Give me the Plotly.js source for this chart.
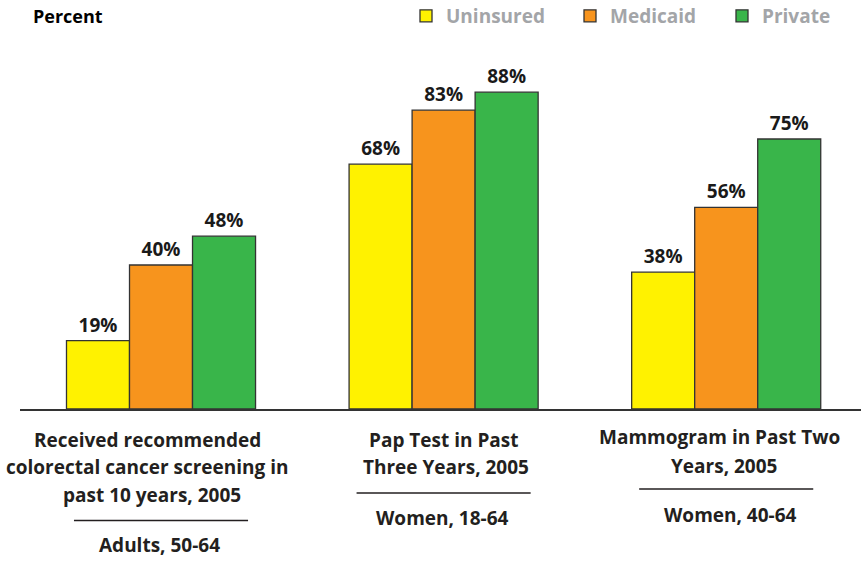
<!DOCTYPE html>
<html>
<head>
<meta charset="utf-8">
<script src="https://cdn.plot.ly/plotly-3.0.1.min.js"></script>
<style>html,body{margin:0;padding:0;background:#fff;}#chart{width:861px;height:561px;}</style>
</head>
<body>
<div id="chart"></div>
<script>
// ---- data ----
var groupPos = [0, 1, 2];
var seriesNames = ["Uninsured", "Medicaid", "Private"];
var uninsured = [19, 68, 38];
var medicaid = [40, 83, 56];
var privateIns = [48, 88, 75];
var seriesColors = ["#FFF200", "#F7941D", "#39B54A"];
var catLines = [
  ["Received recommended", "colorectal cancer screening in", "past 10 years, 2005"],
  ["Pap Test in Past", "Three Years, 2005"],
  ["Mammogram in Past Two", "Years, 2005"]
];
var subLabels = ["Adults, 50-64", "Women, 18-64", "Women, 40-64"];
var yTitle = "Percent";

// ---- geometry helpers (pixel layout of the figure) ----
var M = {l: 20, r: 0, t: 49, b: 152, autoexpand: false};
var plotH = 561 - M.t - M.b;
function py(p) { return (409 - p) / plotH; } // pixel y -> paper y
function px(p) { return (p - M.l) / 841; }    // pixel x -> paper x

var FONT = "Open Sans, Noto Sans, sans-serif";
var values = [uninsured, medicaid, privateIns];
var legendIds = ["legend", "legend2", "legend3"];
var traces = values.map(function (v, i) {
  return {
    type: "bar",
    name: seriesNames[i],
    legend: legendIds[i],
    x: groupPos,
    y: v,
    marker: {color: seriesColors[i], line: {color: "#333333", width: 1.3}},
    texttemplate: "%{y}%",
    textposition: "outside",
    textfont: {family: FONT, size: 19, color: "#1a1a1a", weight: "bold"},
    cliponaxis: false,
    hoverinfo: "skip"
  };
});

var annotations = [];
annotations.push({
  text: "<b>" + yTitle + "</b>", xref: "paper", yref: "paper",
  x: px(31), y: py(16), xanchor: "left", yanchor: "middle",
  showarrow: false, font: {family: FONT, size: 18, color: "#000"}
});
var lineY = [[440, 467, 495], [440, 467], [437, 466]];
var lineShift = [[-14, -14, -9], [0, 2], [-7, -2]];
var sepY = [520.5, 493, 489];
var subY = [545, 518, 515];
var subShift = [-2, -1, 4];
catLines.forEach(function (lines, g) {
  lines.forEach(function (t, k) {
    annotations.push({
      text: "<b>" + t + "</b>", xref: "x", yref: "paper",
      x: groupPos[g], y: py(lineY[g][k]), xshift: lineShift[g][k],
      xanchor: "center", yanchor: "middle", showarrow: false,
      font: {family: FONT, size: 19, color: "#231f20"}
    });
  });
  annotations.push({
    text: "<b>" + subLabels[g] + "</b>", xref: "x", yref: "paper",
    x: groupPos[g], y: py(subY[g]), xshift: subShift[g],
    xanchor: "center", yanchor: "middle", showarrow: false,
    font: {family: FONT, size: 19, color: "#231f20"}
  });
});

var shapes = groupPos.map(function (c, g) {
  return {
    type: "line", xref: "x", yref: "paper",
    x0: c - 0.308, x1: c + 0.308, y0: py(sepY[g]), y1: py(sepY[g]),
    line: {color: "#231f20", width: 1.3}
  };
});

function legendAt(pxLeft) {
  return {
    orientation: "h", x: px(pxLeft), xanchor: "left",
    y: py(-3), yanchor: "top",
    font: {family: FONT, size: 19, color: "#a3a5a8", weight: "bold"},
    bgcolor: "rgba(0,0,0,0)"
  };
}

var layout = {
  width: 861, height: 561,
  margin: M,
  paper_bgcolor: "#fff", plot_bgcolor: "#fff",
  barmode: "group", bargap: 0.331, bargroupgap: 0,
  showlegend: true,
  legend: legendAt(406),
  legend2: legendAt(570),
  legend3: legendAt(722),
  xaxis: {
    range: [-0.499, 2.477], showline: true, linecolor: "#333333", linewidth: 1.5,
    showticklabels: false, showgrid: false, zeroline: false, ticks: "", fixedrange: true
  },
  yaxis: {range: [0, 100], visible: false, showgrid: false, zeroline: false, fixedrange: true},
  annotations: annotations,
  shapes: shapes
};

Plotly.newPlot("chart", traces, layout, {displayModeBar: false, staticPlot: true});
</script>
</body>
</html>
